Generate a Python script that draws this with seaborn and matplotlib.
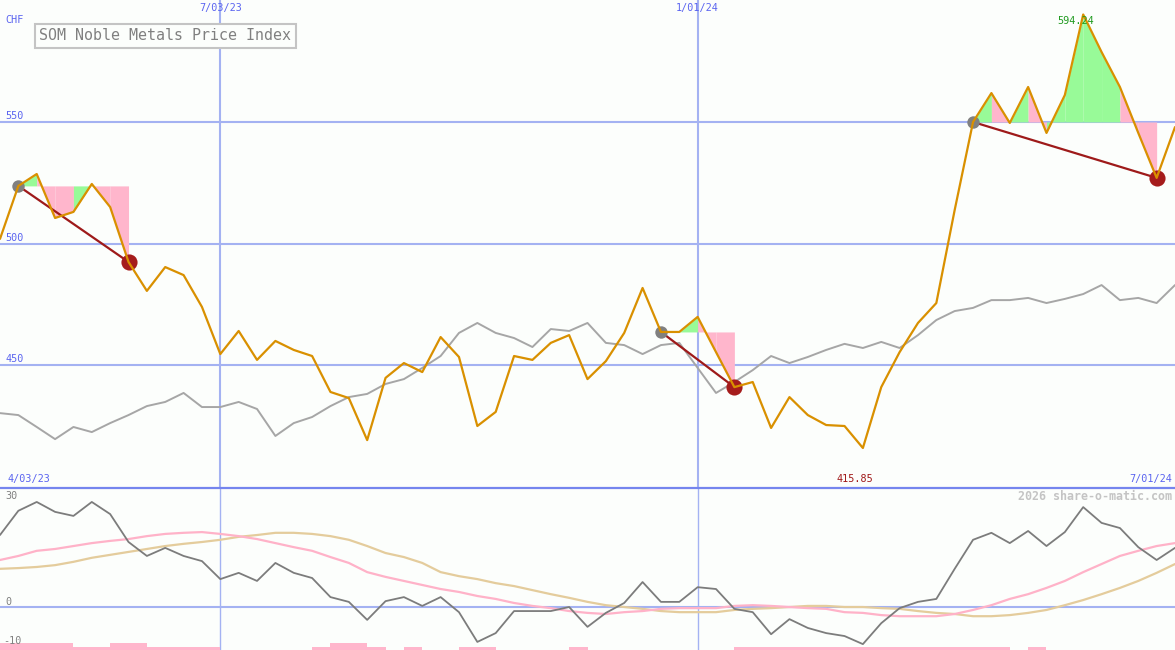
import numpy as np
import matplotlib
matplotlib.use("Agg")
import matplotlib.pyplot as plt
from matplotlib.lines import Line2D
import seaborn as sns

sns.set_style("white")
plt.rcParams['font.family'] = ['DejaVu Sans Mono', 'DejaVu Sans']

# weekly closes, 4/03/23 .. 7/01/24 (CHF)
price = [501.9, 523.7, 528.6, 510.5, 513.0, 524.5, 515.0, 492.4, 480.5, 490.3,
         487.0, 473.9, 454.5, 464.0, 452.1, 459.9, 456.2, 453.7, 438.9, 436.4,
         419.1, 444.7, 450.8, 447.1, 461.5, 453.3, 424.9, 430.7, 453.7, 452.1,
         459.1, 462.3, 444.2, 451.6, 463.2, 481.7, 463.6, 463.6, 469.8, 455.3,
         440.9, 443.0, 424.1, 436.8, 429.4, 425.3, 424.9, 415.85, 440.9, 455.3,
         467.3, 475.5, 513.8, 550.0, 561.9, 549.6, 564.4, 545.5, 561.1, 594.24,
         578.8, 564.4, 545.5, 527.0, 547.9]

# comparison index (grey line), drawn on the same scale
compare = [430.2, 429.4, 424.5, 419.5, 424.5, 422.4, 426.1, 429.4, 433.1, 434.8,
           438.5, 432.7, 432.7, 434.8, 431.9, 420.8, 426.1, 428.6, 433.1, 436.8,
           438.1, 442.2, 444.2, 448.8, 453.7, 463.2, 467.3, 463.2, 461.1, 457.4,
           464.8, 464.0, 467.3, 459.1, 458.2, 454.5, 458.2, 459.1, 448.8, 438.5,
           443.0, 447.9, 453.7, 450.8, 453.3, 456.2, 458.7, 457.0, 459.5, 457.0,
           462.3, 468.5, 472.2, 473.5, 476.7, 476.7, 477.6, 475.5, 477.2, 479.2,
           482.9, 476.7, 477.6, 475.5, 482.9]

# lower panel
momentum = [19.6, 26.2, 28.6, 25.9, 24.8, 28.6, 25.3, 17.7, 13.9, 16.1,
            13.9, 12.5, 7.6, 9.3, 7.1, 12.0, 9.3, 7.9, 2.7, 1.4,
            -3.5, 1.6, 2.7, 0.3, 2.7, -1.4, -9.5, -7.1, -1.1, -1.1,
            -1.1, 0.0, -5.4, -1.6, 1.1, 6.8, 1.4, 1.4, 5.4, 4.9,
            -0.5, -1.4, -7.4, -3.3, -5.7, -7.1, -7.9, -10.1, -4.4, -0.3,
            1.4, 2.2, 10.4, 18.3, 20.2, 17.4, 20.7, 16.6, 20.4, 27.2,
            22.9, 21.5, 16.3, 12.8, 16.1]
avg_fast = [12.8, 13.9, 15.3, 15.8, 16.6, 17.4, 18.0, 18.5, 19.3, 19.9,
            20.2, 20.4, 19.9, 19.3, 18.5, 17.4, 16.3, 15.3, 13.6, 12.0,
            9.5, 8.2, 7.1, 6.0, 4.9, 4.1, 3.0, 2.2, 1.1, 0.3,
            -0.3, -1.1, -1.6, -1.9, -1.4, -1.1, -0.5, -0.3, -0.3, -0.3,
            0.3, 0.5, 0.3, 0.0, -0.3, -0.5, -1.4, -1.6, -2.2, -2.5,
            -2.5, -2.5, -1.9, -0.8, 0.5, 2.2, 3.5, 5.2, 7.1, 9.5,
            11.7, 13.9, 15.3, 16.6, 17.4]
avg_slow = [10.4, 10.6, 10.9, 11.4, 12.3, 13.4, 14.2, 15.0, 15.8, 16.6,
            17.2, 17.7, 18.3, 19.1, 19.6, 20.2, 20.2, 19.9, 19.3, 18.3,
            16.6, 14.7, 13.6, 12.0, 9.5, 8.4, 7.6, 6.5, 5.7, 4.6,
            3.5, 2.5, 1.4, 0.5, 0.0, -0.5, -1.1, -1.4, -1.4, -1.4,
            -0.8, -0.5, -0.3, 0.0, 0.3, 0.3, 0.0, 0.0, -0.3, -0.5,
            -1.1, -1.6, -1.9, -2.5, -2.5, -2.2, -1.6, -0.8, 0.5, 1.9,
            3.5, 5.2, 7.1, 9.3, 11.7]
# bars along the bottom, one per week interval
signal = [1.9, 1.9, 1.9, 1.9, 0.8, 0.8, 1.9, 1.9, 0.8, 0.8,
          0.8, 0.8, 0, 0, 0, 0, 0, 0.8, 1.9, 1.9,
          0.8, 0, 0.8, 0, 0, 0.8, 0.8, 0, 0, 0,
          0, 0.8, 0, 0, 0, 0, 0, 0, 0, 0,
          0.8, 0.8, 0.8, 0.8, 0.8, 0.8, 0.8, 0.8, 0.8, 0.8,
          0.8, 0.8, 0.8, 0.8, 0.8, 0, 0.8, 0, 0, 0,
          0, 0, 0, 0]

# (start, end) week index of the marked patterns
patterns = [(1, 7), (36, 40), (53, 63)]
date_lines = [12, 38]
date_labels = ["7/03/23", "1/01/24"]
price_levels = [450, 500, 550]

weeks = np.arange(len(price))

bg = "#fcfefc"
grid_c = "#a4b2f2"
label_c = "#5a64f0"
orange = "#d99000"
W, H = 1175, 650

fig = plt.figure(figsize=(11.75, 6.5), dpi=100, facecolor=bg)
ax = fig.add_axes([0, 163 / H, 1, 487 / H], facecolor=bg)
ax2 = fig.add_axes([0, 0, 1, 162 / H], facecolor=bg)
for a in (ax, ax2):
    for s in a.spines.values():
        s.set_visible(False)
    a.set_xticks([])
    a.set_yticks([])
    a.set_xlim(0, len(price) - 1)

ax.set_ylim(399.8, 600.2)
ax2.set_ylim(-11.7, 32.4)

# grid
for lv in price_levels:
    ax.axhline(lv, color=grid_c, lw=1.5, zorder=0)
for d in date_lines:
    ax.axvline(d, color=grid_c, lw=1.5, zorder=0)
    ax2.axvline(d, color=grid_c, lw=1.0, zorder=0)
ax2.axhline(0, color=grid_c, lw=1.5, zorder=0)

# pattern fills relative to the starting level
for s, e in patterns:
    level = price[s]
    for i in range(s, e):
        c = "#98fa98" if price[i + 1] >= level else "#ffb6cc"
        ax.fill_between([i, i + 1], level, [price[i], price[i + 1]],
                        color=c, linewidth=0, zorder=1)

sns.lineplot(x=weeks, y=compare, ax=ax, color="#a6a6a6", linewidth=1.4, zorder=2)

for s, e in patterns:
    ax.plot([s, e], [price[s], price[e]], color="#9e1a1a", lw=1.6, zorder=3)
    ax.scatter([s], [price[s]], s=80, color="#808080", zorder=4, linewidths=0)
    ax.scatter([e], [price[e]], s=135, color="#a51c1c", zorder=4, linewidths=0)

sns.lineplot(x=weeks, y=price, ax=ax, color=orange, linewidth=1.6, zorder=5)

# lower panel
ax2.bar(np.arange(len(signal)), signal, bottom=-11.7, width=1, align="edge",
        color="#ffb6cc", linewidth=0, zorder=1)
sns.lineplot(x=weeks, y=avg_slow, ax=ax2, color="#e4cc9c", linewidth=1.6, zorder=2)
sns.lineplot(x=weeks, y=avg_fast, ax=ax2, color="#ffb2c8", linewidth=1.6, zorder=2)
sns.lineplot(x=weeks, y=momentum, ax=ax2, color="#7c7c7c", linewidth=1.3, zorder=3)

fig.add_artist(Line2D([0, 1], [162.5 / H, 162.5 / H], color="#7585ee", lw=1.6))


def ptext(x, y, s, **kw):
    fig.text(x / W, 1 - y / H, s, **kw)


fs = 7.3
ptext(5, 20, "CHF", color=label_c, fontsize=fs, va="center")
for lv, y in zip(price_levels, [359, 238, 116]):
    ptext(5, y, str(lv), color=label_c, fontsize=fs, va="center")
for d, lab in zip(date_lines, date_labels):
    x = d * W / (len(price) - 1)
    ptext(x, 8, lab, color=label_c, fontsize=fs, ha="center", va="center")
ptext(7, 479, "4/03/23", color=label_c, fontsize=fs, va="center")
ptext(1172, 479, "7/01/24", color=label_c, fontsize=fs, ha="right", va="center")
ptext(855, 479, f"{min(price):.2f}", color="#a01818", fontsize=fs, ha="center", va="center")
ptext(1076, 21, f"{max(price):.2f}", color="#1f9a1f", fontsize=fs, ha="center", va="center")
ptext(1172, 496, "2026 share-o-matic.com", color="#c4c4c4", fontsize=8.4,
      ha="right", va="center", fontweight="bold")
ptext(5, 496, "30", color="#808080", fontsize=fs, va="center")
ptext(5, 602, "0", color="#808080", fontsize=fs, va="center")
ptext(3, 641, "-10", color="#808080", fontsize=fs, va="center")

ptext(165, 36, "SOM Noble Metals Price Index", color="#808080", fontsize=10.8,
      ha="center", va="center",
      bbox=dict(boxstyle="square,pad=0.3", fc=bg, ec="#c4c4c4", lw=1.5))

fig.savefig("out.png", dpi=100, facecolor=bg)
